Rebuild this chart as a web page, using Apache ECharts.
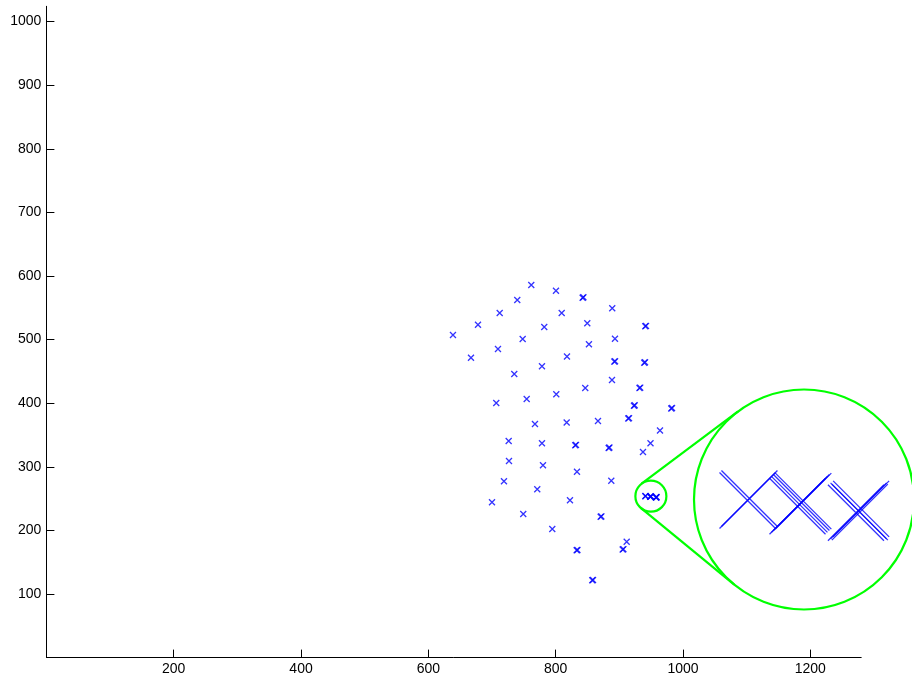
<!DOCTYPE html>
<html><head><meta charset="utf-8">
<script src="https://cdn.jsdelivr.net/npm/echarts@6/dist/echarts.min.js"></script>
<style>html,body{margin:0;padding:0;background:#fff}#c{width:912px;height:679px}</style>
</head><body><div id="c"></div>
<script>
// Tick labels
const xTickValues = [200, 400, 600, 800, 1000, 1200];
const yTickValues = [100, 200, 300, 400, 500, 600, 700, 800, 900, 1000];

// Main scatter points (x, y)
const pointsX = [638.7, 667.0, 678.0, 709.4, 712.1, 735.0, 739.7, 748.2, 761.7, 778.5,
  782.1, 800.5, 809.5, 817.8, 842.4, 849.7, 852.3, 888.9, 893.2, 892.1,
  940.8, 939.2, 706.7, 754.5, 801.0, 888.5, 846.5, 931.7, 923.0, 981.6,
  767.5, 817.3, 866.5, 914.1, 963.9, 726.2, 778.5, 830.8, 883.3, 949.0,
  937.2, 726.7, 780.1, 833.5, 887.4, 718.8, 771.1, 822.5, 700.0, 749.1,
  870.7, 794.7, 833.0, 905.3, 911.6, 857.5];
const pointsY = [507.2, 471.5, 523.4, 485.2, 541.8, 445.9, 562.3, 500.9, 585.8, 458.0,
  519.8, 576.9, 541.8, 473.4, 565.9, 525.6, 492.6, 549.2, 501.4, 465.3,
  520.9, 463.7, 400.3, 406.6, 414.0, 436.5, 423.9, 423.9, 396.1, 391.7,
  367.3, 369.7, 372.0, 375.9, 357.1, 340.6, 337.0, 333.8, 329.6, 337.0,
  323.3, 309.1, 302.4, 292.3, 278.1, 277.2, 264.6, 247.3, 244.2, 225.8,
  221.5, 202.2, 168.7, 170.0, 182.2, 121.5];

// Near-duplicate points (markers that look bold)
const dupX = [843.6, 893.3, 942.0, 940.4, 932.9, 924.2, 982.8, 915.3, 832.0, 884.5, 871.9, 834.2, 906.5, 858.7];
const dupY = [566.5, 465.9, 521.5, 464.3, 424.5, 396.7, 392.3, 376.5, 334.4, 330.2, 222.1, 169.3, 170.6, 122.1];

// The magnified cluster
const clusterX = [940.9, 941.2, 948.6, 948.9, 949.2, 949.5, 957.6, 958.0, 958.4, 958.2];
const clusterY = [253.7, 254.0, 252.8, 253.1, 253.4, 253.6, 251.8, 252.1, 252.4, 251.9];

const zoomCenter = [949.6, 253.85];
const magnify = 10.2;
const smallR = 15.5, bigR = 110;
const bigCenterPx = [804, 499.5];

const toPairs = (xs, ys) => xs.map((v, i) => [v, ys[i]]);
const mainData = toPairs(pointsX, pointsY).concat(toPairs(dupX, dupY), toPairs(clusterX, clusterY));
const insetData = toPairs(clusterX, clusterY);

const xMarker = 'path://M0,0L10,10M10,0L0,10';
const font = "'Liberation Sans', Arial, Helvetica, sans-serif";

const W = 912, H = 679;
const gLeft = 46.4, gRight = 50.8, gTop = 6.3, gBottom = 21.4;
const pxPerX = (W - gLeft - gRight) / 1280;
const pxPerY = (H - gTop - gBottom) / 1024;
const halfX = bigR / (pxPerX * magnify), halfY = bigR / (pxPerY * magnify);

const chart = echarts.init(document.getElementById('c'), null, {renderer: 'canvas'});
const axisCommon = {
  axisLine: {show: true, lineStyle: {color: '#000', width: 1}},
  axisTick: {show: true, inside: true, length: 8, lineStyle: {color: '#000', width: 1}},
  splitLine: {show: false},
};
const plain = v => String(v);
chart.setOption({
  animation: false,
  backgroundColor: '#fff',
  grid: [
    {left: gLeft, right: gRight, top: gTop, bottom: gBottom, containLabel: false, outerBoundsMode: 'none'},
    {left: bigCenterPx[0] - bigR, top: bigCenterPx[1] - bigR, width: 2 * bigR, height: 2 * bigR, containLabel: false, outerBoundsMode: 'none'}
  ],
  xAxis: [
    Object.assign({}, axisCommon, {
      type: 'value', gridIndex: 0, min: 0, max: 1280,
      axisTick: Object.assign({}, axisCommon.axisTick, {customValues: xTickValues}),
      axisLabel: {customValues: xTickValues, formatter: plain, color: '#000', fontSize: 14, fontFamily: font, margin: 5}
    }),
    {type: 'value', gridIndex: 1, show: false, min: zoomCenter[0] - halfX, max: zoomCenter[0] + halfX}
  ],
  yAxis: [
    Object.assign({}, axisCommon, {
      type: 'value', gridIndex: 0, min: 0, max: 1024,
      axisTick: Object.assign({}, axisCommon.axisTick, {customValues: yTickValues}),
      axisLabel: {customValues: yTickValues, formatter: plain, color: '#000', fontSize: 14, fontFamily: font, margin: 5}
    }),
    {type: 'value', gridIndex: 1, show: false, min: zoomCenter[1] - halfY, max: zoomCenter[1] + halfY}
  ],
  series: [
    {
      type: 'scatter', xAxisIndex: 0, yAxisIndex: 0, data: mainData,
      symbol: xMarker, symbolSize: 6,
      itemStyle: {color: 'transparent', borderColor: '#0000ff', borderWidth: 1.3},
      emphasis: {disabled: true}, silent: true
    },
    {
      type: 'scatter', xAxisIndex: 1, yAxisIndex: 1, data: insetData,
      symbol: xMarker, symbolSize: 56, clip: true,
      itemStyle: {color: 'transparent', borderColor: '#0000ff', borderWidth: 1.3},
      emphasis: {disabled: true}, silent: true
    }
  ]
});

// Magnifier annotation (circles + tangent lines) derived from the axes
const c0 = chart.convertToPixel({xAxisIndex: 0, yAxisIndex: 0}, zoomCenter);
const c1 = chart.convertToPixel({xAxisIndex: 1, yAxisIndex: 1}, zoomCenter);
const dx = c1[0] - c0[0], dy = c1[1] - c0[1];
const d = Math.hypot(dx, dy);
const ux = dx / d, uy = dy / d;
const cosA = -(bigR - smallR) / d;
const sinA = Math.sqrt(1 - cosA * cosA);
const lines = [1, -1].map(s => {
  const nx = ux * cosA - s * uy * sinA;
  const ny = uy * cosA + s * ux * sinA;
  return {
    type: 'line', silent: true, z: 10,
    shape: {x1: c0[0] + smallR * nx, y1: c0[1] + smallR * ny, x2: c1[0] + bigR * nx, y2: c1[1] + bigR * ny},
    style: {stroke: '#00ff00', lineWidth: 2.2}
  };
});
const green = {stroke: '#00ff00', lineWidth: 2.2, fill: null};
chart.setOption({
  graphic: [
    {type: 'circle', silent: true, z: 10, shape: {cx: c0[0], cy: c0[1], r: smallR}, style: green},
    {type: 'circle', silent: true, z: 10, shape: {cx: c1[0], cy: c1[1], r: bigR}, style: green}
  ].concat(lines)
});
</script>
</body></html>
